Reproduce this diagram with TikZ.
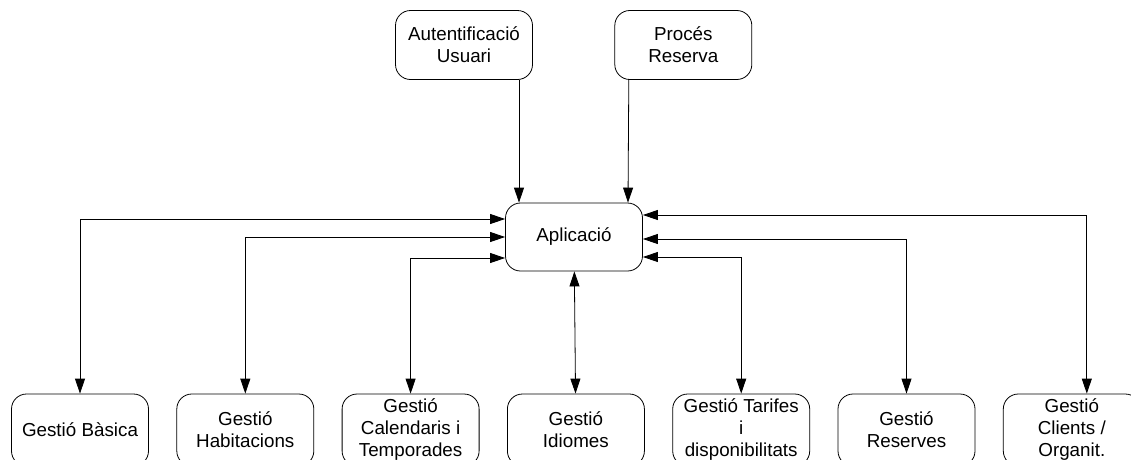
\documentclass[tikz,border=0pt]{standalone}
\usepackage{fontspec}
\setmainfont{Liberation Sans}
\usetikzlibrary{arrows.meta,positioning,calc}
\definecolor{ink}{HTML}{000000}
\tikzset{
  >={Triangle[length=15pt,width=10pt]},
  every node/.style={font=\fontsize{18.8}{22}\selectfont,text=ink},
  box/.style={draw=ink,line width=0.8pt,rounded corners=15pt,fill=white,minimum width=137pt,minimum height=68pt,align=center,inner sep=2pt},
  topbox/.style={box,minimum height=69pt},
  lowbox/.style={box,minimum height=72pt},
  arrow/.style={->,line width=0.8pt,draw=ink},
  biarrow/.style={<->,line width=0.8pt,draw=ink},
}

\begin{document}
\begin{tikzpicture}[x=1pt,y=-1pt,node distance=27.5pt and 27.5pt]
\useasboundingbox (0,0) rectangle (1131,459);
\clip (0,0) rectangle (1131,459);

\node[box] (apl) at (574,237) {Aplicació};

\node[topbox] (auten) at (464,45) {Autentificació\\Usuari};
\node[topbox,right=81.5pt of auten] (proces) {Procés\\Reserva};

\node[lowbox] (basica) at (80,430) {Gestió Bàsica};
\node[lowbox,right=of basica] (habit) {Gestió\\Habitacions};
\node[lowbox,right=of habit] (calend) {Gestió\\Calendaris i\\Temporades};
\node[lowbox,right=of calend] (idiom) {Gestió\\Idiomes};
\node[lowbox,right=of idiom] (tarif) {Gestió Tarifes\\i\\disponibilitats};
\node[lowbox,right=of tarif] (reserv) {Gestió\\Reserves};
\node[lowbox,right=of reserv] (client) {Gestió\\Clients /\\Organit.};

\draw[arrow] ([xshift=55pt]auten.south) -- ([xshift=-55pt]apl.north);
\draw[arrow] ([xshift=-54.5pt]proces.south) -- ([xshift=54pt]apl.north);

\draw[biarrow] ([yshift=18pt]apl.west) -| (basica);
\draw[biarrow] (apl.west) -| (habit);
\draw[biarrow] ([yshift=-21pt]apl.west) -| (calend);
\draw[biarrow] (apl) -- (idiom);
\draw[biarrow] ([yshift=-20pt]apl.east) -| (tarif);
\draw[biarrow] ([yshift=-2pt]apl.east) -| (reserv);
\draw[biarrow] ([yshift=22pt]apl.east) -| ([xshift=15pt]client.north);

\end{tikzpicture}
\end{document}
